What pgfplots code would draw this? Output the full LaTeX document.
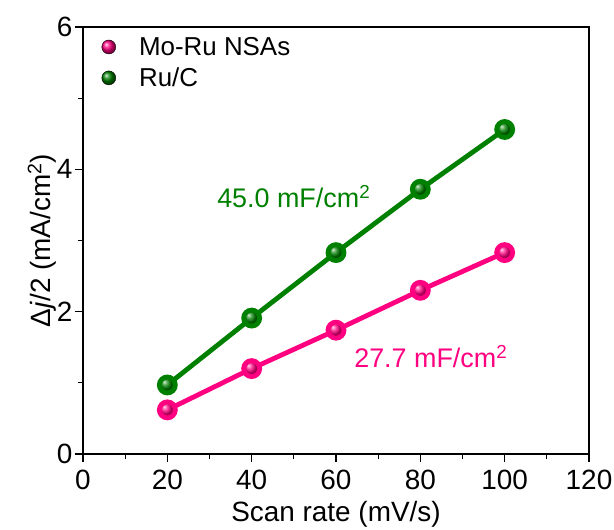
\documentclass[border=0pt]{standalone}
\usepackage{pgfplots}
\pgfplotsset{compat=1.18}
\usepackage{fontspec}
\setmainfont{Liberation Sans}

\definecolor{rugreen}{RGB}{0,128,0}
\definecolor{mopink}{RGB}{255,0,128}

\begin{document}
\begin{tikzpicture}
\begin{axis}[
  scale only axis,
  width=506bp, height=427bp,
  xmin=0, xmax=120, ymin=0, ymax=6,
  xtick={0,20,...,120}, ytick={0,2,4,6},
  minor x tick num=1, minor y tick num=1,
  tick pos=left, tick align=outside,
  major tick length=8bp, minor tick length=5bp,
  every tick/.style={black, line width=1.1bp},
  axis line style={line width=1.1bp},
  /pgf/number format/assume math mode=true,
  ticklabel style={font=\fontsize{28}{32}\selectfont},
  xticklabel style={yshift=-5bp},
  yticklabel style={xshift=1bp},
  label style={font=\fontsize{28}{32}\selectfont},
  xlabel={Scan rate (mV/s)},
  ylabel={Δ\textit{j}/2 (mA/cm\textsuperscript{2})},
  xlabel style={yshift=-4bp},
  ylabel style={yshift=-6bp},
  legend style={draw=none, fill=none, at={(axis description cs:0.0,1.0)}, anchor=north west,
    font=\fontsize{26}{30}\selectfont, row sep=7bp, inner xsep=10bp, inner ysep=8bp},
  legend image code/.code={%
    \path[draw=none, fill=none] (0cm,0cm) rectangle (1.55cm,0cm);
    \path[#1, draw=none] plot[only marks] coordinates {(0.55cm,0cm)};},
  legend cell align=left,
]
\addlegendimage{mark=ball, mark size=7bp, mark options={ball color=mopink, draw=none}}
\addlegendentry{Mo-Ru NSAs}
\addlegendimage{mark=ball, mark size=7bp, mark options={ball color=rugreen, draw=none}}
\addlegendentry{Ru/C}

% Ru/C
\addplot[rugreen, line width=4.8bp, mark=ball, mark size=8bp, mark options={ball color=rugreen}]
  coordinates {(20,0.97) (40,1.91) (60,2.83) (80,3.72) (100,4.56)};
% Mo-Ru NSAs
\addplot[mopink, line width=4.8bp, mark=ball, mark size=8bp, mark options={ball color=mopink}]
  coordinates {(20,0.62) (40,1.20) (60,1.74) (80,2.30) (100,2.83)};

\node[anchor=base west, text=rugreen, font=\fontsize{27}{30}\selectfont, inner sep=0pt]
  at (axis cs:31.8,3.47) {45.0 mF/cm\textsuperscript{2}};
\node[anchor=base west, text=mopink, font=\fontsize{27}{30}\selectfont, inner sep=0pt]
  at (axis cs:64.3,1.21) {27.7 mF/cm\textsuperscript{2}};
\end{axis}
\pgfresetboundingbox
\path (-83bp,-76bp) rectangle (531bp,454bp);
\end{tikzpicture}
\end{document}
